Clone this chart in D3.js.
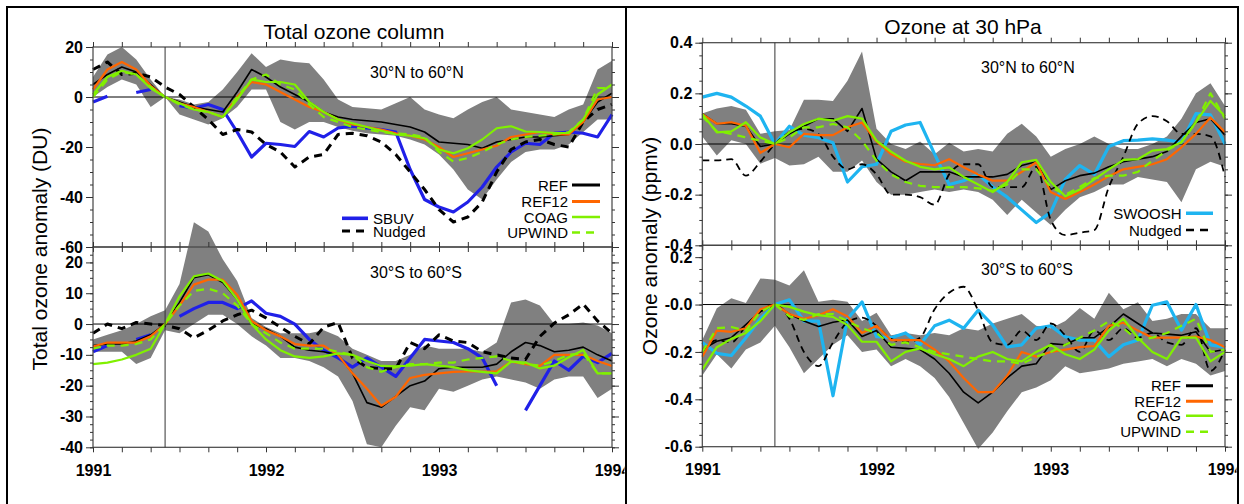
<!DOCTYPE html>
<html>
<head>
<meta charset='utf-8'>
<title>Ozone anomalies</title>
<script src='https://cdn.jsdelivr.net/npm/d3@7'></script>
<style>
  body { margin: 0; background: #fff; }
  text { font-family: 'Liberation Sans', Arial, Helvetica, sans-serif; fill: #000; }
</style>
</head>
<body>
<svg width='1244' height='504'></svg>
<script>
// monthly anomalies, Jan 1991 .. Jan 1994 (37 months)
const yearLabels = ['1991', '1992', '1993', '1994']

// ---- total ozone column, 30N-60N (DU)
const tlRef = [5, 9, 12, 10, 5, 0, -2, -4, -5, -6, 2, 11, 8, 4, 1, -2, -6, -8, -9, -9.5, -10, -11, -12, -14, -18, -18.5, -19, -20.5, -18, -17, -16, -16, -15.5, -15, -10, -2, 1.5]
const tlRef12 = [3, 11, 14, 11, 4.5, 0, -2.5, -4, -6, -8, 0, 6, 5, 2, -1, -4, -6, -9, -11, -12, -13, -14.5, -15.5, -17, -20, -24, -22.5, -21, -19.5, -16, -15, -14, -15, -15, -10, -1, 0]
const tlCoag = [1, 8, 10.5, 9, 3.5, 0, -2.5, -5, -6, -8, -1, 7, 6, 6, 5, -2, -6, -9, -10.5, -12, -13.5, -15, -15.5, -16.5, -21, -22.5, -20.5, -17, -12.5, -11.7, -13.8, -14, -14.4, -14.4, -9, 1, 5]
const tlUpwind = [0, 7, 10, 9, 4, 0, -3, -5, -6, -8, 0, 7, 9, 5, 3, -3, -8, -10, -12, -13, -14, -14.5, -15, -16, -22, -25.8, -24.4, -22, -19, -17, -16, -15.5, -15, -14, -9, 3.6, 3.6]
const tlNudged = [11, 14, 9, 9.5, 8, 4, 1, -4, -9, -15, -13, -14, -19, -22, -28, -24, -23, -15, -14.5, -15.5, -18, -23, -30, -37, -45, -50, -48, -42, -30, -21, -18, -17, -19, -20, -10, -5, -3]
const tlSbuv = [-2, 0.3, null, 1.8, 3, null, -3.5, -4.5, -3, -5, -14, -24, -18.5, -19, -19.8, -13.8, -16, -12.4, -11.7, -12.4, -13, -14, -29, -41, -44, -46, -42, -36, -28, -22, -18.5, -19, -14.5, -14, -14.5, -16, -7]
const tlHi = [8, 17, 20, 15, 7, 0, -1, -3, -2, 3, 10, 17.5, 12, 15, 14, 13.5, 7, -1, -4, -4.5, -5, -2.5, 0, -5, -7, -8.5, -5, -2, 0, -5, -6, -7, -8, -5, -3, 11, 14.5]
const tlLo = [0, 4, 7, 5, -4, 0, -7, -9, -11, -8.5, -4, 3, 3, -10, -13, -10, -10, -12, -13.5, -14.5, -15, -15.5, -17, -19, -23, -29, -37, -41, -33, -26, -22, -21, -21, -19, -14, -9, -9]
const tlTicks = [-60, -40, -20, 0, 20]
const tlTickLabels = ['-60', '-40', '-20', '0', '20']

// ---- total ozone column, 30S-60S (DU)
const blRef = [-7, -6.5, -6.5, -5.5, -3.5, 0, 7, 15, 16, 13.5, 8, 0, -1.5, -4, -7.5, -8.5, -9, -10, -16, -25.5, -27, -23.5, -20, -18.5, -14.5, -14, -14, -14, -13, -9, -6, -7, -9, -8.5, -7.5, -10, -12]
const blRef12 = [-7.3, -6, -6, -6, -4, 0, 6, 12.8, 14.4, 14.4, 9.5, 1, -2, -4, -6.5, -7, -7, -10, -16, -21, -26.5, -23.6, -17.5, -16.5, -16, -15.5, -15.4, -15.4, -15.4, -12.2, -13, -13.6, -10, -10, -10, -12, -13.6]
const blCoag = [-13, -12.5, -11.5, -10, -8, 0, 9, 15.5, 16.4, 14, 8, 0, -5, -8.5, -10.5, -11, -10.5, -9.5, -10, -12, -13.6, -13.7, -13.5, -13, -13.5, -14, -15, -15.5, -16, -12.2, -12.5, -14.4, -13.5, -10.8, -8.4, -16, -16]
const blUpwind = [-8, -7, -7, -6.5, -5, 0, 6, 10.7, 11.5, 10, 6, 0, -3, -6, -8, -8, -8, -9, -10, -14, -15.5, -14, -13, -13, -12.5, -12.5, -11.5, -11, -10.5, -12, -13, -13.5, -12, -10, -9.5, -16, -16]
const blNudged = [-3, 0, -1.5, 0.5, 0, -0.5, -1.5, -4.5, -2, 1, 3, 4.5, 2, -1, -4, -6.5, -1, 0.5, -11, -14, -14.5, -14.5, -6, -8, -3.5, -5.5, -6, -9, -10, -11, -11.5, -4, 0.3, 3, 6.5, 1, -3]
const blSbuv = [-9, -7, null, -5, -3.5, null, 2.5, 5, 7, 7, 5, 7.5, 3.5, 2.5, 0, -5, -8.5, -11, -14, -11, -14, -17, -11, -5, -5.5, -6, -8, -11, -20, null, -28, -20, -12, -15, -10.5, -12.5, -9.5]
const blHi = [-5, -3.5, -2, 0, 2.5, 4.5, 13, 33, 30, 21, 14, 2, -1, -3, -3, -3, -2, -4, -8, -10, -12, -12, -10, -7, -8, -8, -8, -9, -6, 7, 8, 6, 0, 0, 0.5, -0.5, -3]
const blLo = [-9, -9, -9, -13, -11, -2, -3, 0, 3, 3, 0, -4, -7, -11, -11, -12, -14, -17, -25, -39, -40, -33, -27, -28, -21, -22, -20, -18, -17, -18, -19, -21, -18, -17, -17, -24, -21]
const blTicks = [-40, -30, -20, -10, 0, 10, 20]
const blTickLabels = ['-40', '-30', '-20', '-10', '0', '10', '20']

// ---- ozone at 30 hPa, 30N-60N (ppmv)
const trRef = [0.12, 0.08, 0.08, 0.07, -0.01, 0, 0.04, 0.07, 0.1, 0.1, 0.05, 0.14, -0.06, -0.11, -0.145, -0.11, -0.11, -0.11, -0.13, -0.13, -0.13, -0.12, -0.085, -0.07, -0.18, -0.145, -0.125, -0.115, -0.09, -0.07, -0.06, -0.05, -0.03, 0.03, 0.085, 0.1, 0.035]
const trRef12 = [0.118, 0.08, 0.086, 0.072, -0.035, 0, -0.013, 0.04, 0.035, 0.035, 0.066, 0.085, 0.01, -0.04, -0.07, -0.079, -0.084, -0.06, -0.092, -0.12, -0.145, -0.145, -0.11, -0.072, -0.19, -0.217, -0.19, -0.16, -0.127, -0.1, -0.09, -0.08, -0.06, -0.013, 0.04, 0.105, 0.046]
const trCoag = [0.118, 0.046, 0.05, 0.086, 0.026, 0, 0.046, 0.079, 0.1, 0.092, 0.11, 0.1, 0.013, -0.03, -0.066, -0.09, -0.1, -0.092, -0.13, -0.16, -0.19, -0.15, -0.072, -0.063, -0.15, -0.206, -0.18, -0.14, -0.1, -0.063, -0.06, -0.026, -0.02, 0.007, 0.086, 0.17, 0.11]
const trUpwind = [0.11, 0.05, 0.04, 0.026, 0.013, 0, 0.026, 0.066, 0.066, 0.079, 0.066, 0.013, -0.066, -0.12, -0.15, -0.165, -0.17, -0.17, -0.17, -0.175, -0.185, -0.16, -0.1, -0.1, -0.17, -0.2, -0.17, -0.135, -0.125, -0.125, -0.11, -0.066, -0.026, 0.007, 0.086, 0.2, 0.1]
const trNudged = [-0.065, -0.065, -0.06, -0.125, -0.07, 0, 0.045, 0.06, 0.04, -0.05, -0.1, -0.08, -0.12, -0.2, -0.2, -0.21, -0.24, -0.12, -0.08, -0.08, -0.17, -0.17, -0.17, -0.09, -0.3, -0.36, -0.35, -0.34, -0.17, -0.05, 0.08, 0.11, 0.09, 0.04, 0.04, 0.03, -0.13]
const trSwoosh = [0.185, 0.2, 0.185, 0.15, 0.11, 0, 0.07, 0.035, 0.025, 0.005, -0.15, -0.09, -0.08, 0.05, 0.075, 0.085, -0.04, -0.16, -0.145, -0.12, -0.17, -0.21, -0.26, -0.31, -0.27, -0.14, -0.085, -0.12, -0.01, 0.013, 0.015, 0.02, 0.015, 0.007, 0.12, 0.115, 0]
const trHi = [0.12, 0.14, 0.15, 0.135, 0.04, 0.05, 0.055, 0.175, 0.175, 0.17, 0.25, 0.365, 0.06, 0, -0.02, 0.01, -0.04, 0.005, -0.03, -0.02, -0.03, 0.04, 0.08, 0.03, -0.05, -0.02, 0, 0.03, 0, -0.02, -0.02, 0, 0.03, 0.1, 0.2, 0.24, 0.15]
const trLo = [0.03, -0.045, 0.015, 0, -0.078, -0.055, -0.085, -0.08, -0.05, -0.11, -0.11, -0.065, -0.15, -0.2, -0.2, -0.19, -0.18, -0.19, -0.18, -0.19, -0.22, -0.28, -0.22, -0.27, -0.32, -0.26, -0.21, -0.19, -0.16, -0.16, -0.13, -0.14, -0.15, -0.23, -0.1, -0.07, -0.09]
const trTicks = [-0.4, -0.2, 0, 0.2, 0.4]
const trTickLabels = ['-0.4', '-0.2', '0.0', '0.2', '0.4']

// ---- ozone at 30 hPa, 30S-60S (ppmv)
const brRef = [-0.19, -0.155, -0.14, -0.085, -0.03, 0, -0.04, -0.07, -0.093, -0.075, -0.065, -0.135, -0.11, -0.18, -0.185, -0.19, -0.23, -0.29, -0.37, -0.415, -0.37, -0.31, -0.26, -0.25, -0.165, -0.17, -0.14, -0.14, -0.095, -0.04, -0.08, -0.12, -0.125, -0.13, -0.115, -0.2, -0.19]
const brRef12 = [-0.22, -0.11, -0.115, -0.1, -0.02, 0, -0.04, -0.06, -0.045, -0.02, -0.05, -0.12, -0.09, -0.15, -0.15, -0.15, -0.19, -0.24, -0.31, -0.37, -0.37, -0.3, -0.2, -0.22, -0.2, -0.19, -0.18, -0.175, -0.09, -0.077, -0.11, -0.14, -0.14, -0.14, -0.135, -0.15, -0.18]
const brCoag = [-0.275, -0.18, -0.145, -0.12, -0.07, 0, -0.01, -0.03, -0.045, -0.052, -0.087, -0.157, -0.157, -0.24, -0.2, -0.185, -0.21, -0.23, -0.26, -0.22, -0.2, -0.23, -0.24, -0.2, -0.17, -0.21, -0.23, -0.19, -0.11, -0.06, -0.14, -0.2, -0.23, -0.14, -0.14, -0.24, -0.2]
const brUpwind = [-0.2, -0.1, -0.095, -0.11, -0.03, 0, -0.05, -0.065, -0.04, -0.04, -0.07, -0.1, -0.12, -0.17, -0.16, -0.18, -0.2, -0.21, -0.22, -0.23, -0.24, -0.24, -0.25, -0.22, -0.2, -0.17, -0.14, -0.11, -0.07, -0.1, -0.15, -0.14, -0.12, -0.09, -0.06, -0.2, -0.19]
const brNudged = [-0.2, -0.15, -0.16, -0.09, -0.03, 0, -0.06, -0.2, -0.26, -0.16, -0.075, -0.055, -0.09, -0.145, -0.16, -0.14, -0.02, 0.05, 0.075, -0.025, -0.16, -0.17, -0.11, -0.15, -0.08, -0.13, -0.2, -0.11, -0.15, -0.1, -0.14, -0.12, -0.16, -0.17, -0.1, -0.28, -0.19]
const brSwoosh = [-0.16, -0.206, -0.215, -0.14, -0.06, 0, 0.02, -0.07, -0.07, -0.385, -0.06, 0.011, -0.136, -0.14, -0.12, -0.17, -0.09, -0.066, -0.1, -0.024, -0.087, -0.179, -0.17, -0.1, -0.09, -0.136, -0.15, -0.15, -0.22, -0.17, -0.15, -0.003, 0.011, -0.108, 0, -0.17, -0.18]
const brHi = [-0.15, -0.016, 0.027, 0.006, 0.11, 0.105, 0.08, 0.145, 0.012, 0.02, 0.012, -0.07, -0.035, -0.13, -0.12, -0.13, -0.12, -0.13, -0.1, -0.11, -0.08, -0.06, -0.04, -0.09, -0.1, -0.07, -0.015, -0.06, 0.05, -0.02, 0.01, -0.07, -0.06, -0.04, -0.04, -0.1, -0.1]
const brLo = [-0.3, -0.21, -0.27, -0.19, -0.16, -0.09, -0.18, -0.29, -0.23, -0.17, -0.13, -0.2, -0.19, -0.26, -0.23, -0.26, -0.31, -0.39, -0.5, -0.61, -0.54, -0.45, -0.37, -0.35, -0.32, -0.26, -0.29, -0.28, -0.27, -0.25, -0.24, -0.23, -0.26, -0.23, -0.25, -0.3, -0.28]
const brTicks = [-0.6, -0.4, -0.2, 0, 0.2]
const brTickLabels = ['-0.6', '-0.4', '-0.2', '-0.0', '0.2']

const svg = d3.select('svg')

// line styles
const styles = {
    REF: { stroke: '#000', width: 1.6 },
    REF12: { stroke: '#ff6600', width: 2.2 },
    COAG: { stroke: '#80f000', width: 2.2 },
    UPWIND: { stroke: '#80f000', width: 2.2, dash: '8,6' },
    SBUV: { stroke: '#2020e8', width: 3.2 },
    SWOOSH: { stroke: '#1eb4f0', width: 3.2 },
    NudgedL: { stroke: '#000', width: 3, dash: '8,6' },
    NudgedR: { stroke: '#000', width: 1.8, dash: '7,5' }
}
const legendNames = { NudgedL: 'Nudged', NudgedR: 'Nudged' }

const leftX = [93, 612]
const rightX = [702.3, 1225]

const panels = [
    { col: 'L', xr: leftX, yr: [247, 47], dom: [-60, 20], ticks: tlTicks, labels: tlTickLabels, minor: d3.range(-60, 20.01, 5),
      lo: tlLo, hi: tlHi, region: '30°N to 60°N', rx: 370, ry: 78, top: true,
      series: [['SBUV', tlSbuv], ['NudgedL', tlNudged], ['REF', tlRef], ['REF12', tlRef12], ['UPWIND', tlUpwind], ['COAG', tlCoag]] },
    { col: 'L', xr: leftX, yr: [447.3, 247], dom: [-40, 25], ticks: blTicks, labels: blTickLabels, minor: d3.range(-40, 25.01, 2.5),
      lo: blLo, hi: blHi, region: '30°S to 60°S', rx: 370, ry: 278, top: false,
      series: [['SBUV', blSbuv], ['NudgedL', blNudged], ['REF', blRef], ['REF12', blRef12], ['UPWIND', blUpwind], ['COAG', blCoag]] },
    { col: 'R', xr: rightX, yr: [245.3, 42.7], dom: [-0.4, 0.4], ticks: trTicks, labels: trTickLabels, minor: d3.range(-0.4, 0.401, 0.05),
      lo: trLo, hi: trHi, region: '30°N to 60°N', rx: 981, ry: 73, top: true,
      series: [['SWOOSH', trSwoosh], ['NudgedR', trNudged], ['REF', trRef], ['REF12', trRef12], ['UPWIND', trUpwind], ['COAG', trCoag]] },
    { col: 'R', xr: rightX, yr: [446.7, 245.3], dom: [-0.6, 0.25], ticks: brTicks, labels: brTickLabels, minor: d3.range(-0.6, 0.251, 0.05),
      lo: brLo, hi: brHi, region: '30°S to 60°S', rx: 981, ry: 275, top: false,
      series: [['SWOOSH', brSwoosh], ['NudgedR', brNudged], ['REF', brRef], ['REF12', brRef12], ['UPWIND', brUpwind], ['COAG', brCoag]] }
]

// clip each half so the last year label is cut by the frame, as in the figure
const defs = svg.append('defs')
defs.append('clipPath').attr('id', 'clipL').append('rect').attr('x', 0).attr('y', 0).attr('width', 624.5).attr('height', 504)
defs.append('clipPath').attr('id', 'clipR').append('rect').attr('x', 627).attr('y', 0).attr('width', 609.5).attr('height', 504)

const groups = {
    L: svg.append('g').attr('clip-path', 'url(#clipL)'),
    R: svg.append('g').attr('clip-path', 'url(#clipR)')
}

const monthTicks = d3.range(0, 37, 2)

function styleAxis(g) {
    g.select('.domain').remove()
    g.selectAll('line').attr('stroke', '#333').attr('stroke-width', 1)
    g.selectAll('text').attr('font-size', 16).attr('font-weight', 'bold')
        .attr('font-family', "'Liberation Sans', Arial, sans-serif").attr('fill', '#000')
}

function drawPanel(p) {
    const g = groups[p.col].append('g')
    const x = d3.scaleLinear([0, 36], p.xr)
    const y = d3.scaleLinear(p.dom, p.yr)

    // ensemble envelope
    const area = d3.area().x((d, i) => x(i)).y0((d, i) => y(p.lo[i])).y1(d => y(d))
    g.append('path').datum(p.hi).attr('d', area).attr('fill', '#808080')

    // zero line
    g.append('line').attr('x1', x(0)).attr('x2', x(36)).attr('y1', y(0)).attr('y2', y(0))
        .attr('stroke', '#000').attr('stroke-width', 1)

    // series
    p.series.forEach(([name, values]) => {
        const s = styles[name]
        const line = d3.line().defined(d => d != null).x((d, i) => x(i)).y(d => y(d))
        if (name === 'NudgedR') line.curve(d3.curveMonotoneX)
        g.append('path').datum(values).attr('d', line)
            .attr('fill', 'none').attr('stroke', s.stroke).attr('stroke-width', s.width)
            .attr('stroke-dasharray', s.dash || null).attr('stroke-linejoin', 'round')
    })

    // frame
    g.append('rect').attr('x', x(0)).attr('y', p.yr[1]).attr('width', x(36) - x(0)).attr('height', p.yr[0] - p.yr[1])
        .attr('fill', 'none').attr('stroke', '#444').attr('stroke-width', 1.2)

    // y axes (left labelled, right mirrored)
    g.append('g').attr('transform', `translate(${x(0)},0)`)
        .call(d3.axisLeft(y).tickValues(p.ticks).tickSize(7).tickPadding(3).tickFormat((d, i) => p.labels[i]))
        .call(styleAxis)
    g.append('g').attr('transform', `translate(${x(0)},0)`)
        .call(d3.axisLeft(y).tickValues(p.minor).tickSize(3).tickFormat('')).call(styleAxis)
    g.append('g').attr('transform', `translate(${x(36)},0)`)
        .call(d3.axisRight(y).tickValues(p.ticks).tickSize(7).tickFormat('')).call(styleAxis)
    g.append('g').attr('transform', `translate(${x(36)},0)`)
        .call(d3.axisRight(y).tickValues(p.minor).tickSize(3).tickFormat('')).call(styleAxis)

    // x ticks every two months, top and bottom
    g.append('g').attr('transform', `translate(0,${p.yr[1]})`)
        .call(d3.axisTop(x).tickValues(monthTicks).tickSize(5).tickFormat('')).call(styleAxis)
    const xb = g.append('g').attr('transform', `translate(0,${p.yr[0]})`)
        .call(d3.axisBottom(x).tickValues(monthTicks).tickSize(5).tickPadding(12)
            .tickFormat(d => (!p.top && d % 12 === 0) ? yearLabels[d / 12] : ''))
        .call(styleAxis)

    // region label
    g.append('text').attr('x', p.rx).attr('y', p.ry).attr('font-size', 16).text(p.region)
    return x
}

const xs = panels.map(drawPanel)

// June 1991 reference line through both panels of each column
groups.L.append('line').attr('x1', xs[0](5)).attr('x2', xs[0](5)).attr('y1', 47).attr('y2', 447.3)
    .attr('stroke', '#333').attr('stroke-width', 1)
groups.R.append('line').attr('x1', xs[2](5)).attr('x2', xs[2](5)).attr('y1', 42.7).attr('y2', 446.7)
    .attr('stroke', '#333').attr('stroke-width', 1)

// titles and axis titles
groups.L.append('text').attr('x', 354).attr('y', 39).attr('text-anchor', 'middle').attr('font-size', 21).text('Total ozone column')
groups.R.append('text').attr('x', 963).attr('y', 34).attr('text-anchor', 'middle').attr('font-size', 21).text('Ozone at 30 hPa')
groups.L.append('text').attr('transform', 'translate(47,249) rotate(-90)').attr('text-anchor', 'middle')
    .attr('font-size', 21).text('Total ozone anomaly (DU)')
groups.R.append('text').attr('transform', 'translate(657,246) rotate(-90)').attr('text-anchor', 'middle')
    .attr('font-size', 21).text('Ozone anomaly (ppmv)')

// legends
const legendWidths = { REF: 3, REF12: 3, COAG: 2.6, UPWIND: 2.6, SBUV: 3.6, SWOOSH: 3.6, NudgedL: 3, NudgedR: 2.4 }
function legend(g, items, textX, anchor, lx1, lx2) {
    items.forEach(([name, yy]) => {
        const s = styles[name]
        g.append('line').attr('x1', lx1).attr('x2', lx2).attr('y1', yy).attr('y2', yy)
            .attr('stroke', s.stroke).attr('stroke-width', legendWidths[name])
            .attr('stroke-dasharray', s.dash ? '8,6' : null)
        g.append('text').attr('x', textX).attr('y', yy + 5.5).attr('text-anchor', anchor)
            .attr('font-size', 15).text(legendNames[name] || name)
    })
}
legend(groups.L, [['SBUV', 218.3], ['NudgedL', 231]], 373, 'start', 342, 368)
legend(groups.L, [['REF', 185], ['REF12', 201.5], ['COAG', 217], ['UPWIND', 232.5]], 568, 'end', 572, 600)
legend(groups.R, [['SWOOSH', 213.3], ['NudgedR', 230]], 1181.5, 'end', 1186, 1213)
legend(groups.R, [['REF', 385.7], ['REF12', 401.3], ['COAG', 415.7], ['UPWIND', 431.7]], 1181, 'end', 1186, 1213)

// outer figure frames
svg.append('path').attr('d', 'M7,504V7H1238V504M626,7V504')
    .attr('fill', 'none').attr('stroke', '#000').attr('stroke-width', 2)
</script>
</body>
</html>
